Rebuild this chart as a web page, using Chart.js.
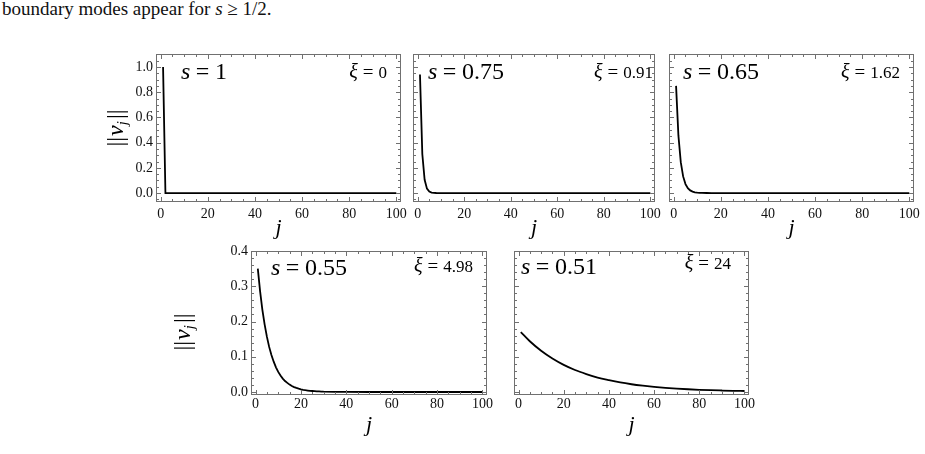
<!DOCTYPE html>
<html><head><meta charset="utf-8">
<script src="https://cdn.jsdelivr.net/npm/chart.js@4.4.1/dist/chart.umd.min.js"></script>
<style>
html,body{margin:0;padding:0;background:#fff;width:925px;height:454px;overflow:hidden;position:relative}
#caption{position:absolute;left:2px;top:-2px;font:19px "Liberation Serif",serif;color:#111;white-space:nowrap}
.panel{position:absolute}
.panel canvas{display:block}
</style></head><body>
<div id="caption">boundary modes appear for <i>s</i> ≥ 1/2.</div>
<div class="panel" id="p0"><canvas id="c0"></canvas></div>
<div class="panel" id="p1"><canvas id="c1"></canvas></div>
<div class="panel" id="p2"><canvas id="c2"></canvas></div>
<div class="panel" id="p3"><canvas id="c3"></canvas></div>
<div class="panel" id="p4"><canvas id="c4"></canvas></div>
<script>
// ---------------- data ----------------
const xTickLabels = [0, 20, 40, 60, 80, 100];
const yTickLabelsTop = [0.0, 0.2, 0.4, 0.6, 0.8, 1.0];
const yTickLabelsBottom = [0.0, 0.1, 0.2, 0.3, 0.4];

const sValues  = ['1', '0.75', '0.65', '0.55', '0.51'];
const xiValues = ['0', '0.91', '1.62', '4.98', '24'];

const j_s100 = [1, 2, 100];
const v_s100 = [1.0, 0.0, 0.0];

const j_s075 = [1, 2, 3, 4, 5, 6, 7, 8, 10, 100];
const v_s075 = [0.94, 0.31, 0.105, 0.035, 0.012, 0.004, 0.0013, 0.0004, 0, 0];

const j_s065 = [1, 2, 3, 4, 5, 6, 7, 8, 9, 10, 11, 12, 14, 16, 100];
const v_s065 = [0.85, 0.455, 0.245, 0.132, 0.071, 0.038, 0.021, 0.011, 0.006, 0.0032, 0.0017, 0.0009, 0.0003, 0, 0];

const j_s055 = [1, 2, 3, 4, 5, 6, 7, 8, 9, 10, 11, 12, 13, 14, 15, 16, 17, 18, 19, 20,
                21, 22, 23, 24, 25, 26, 27, 28, 29, 30, 35, 40, 50, 100];
const v_s055 = [0.350, 0.286, 0.234, 0.192, 0.157, 0.128, 0.105, 0.086, 0.070, 0.057,
                0.047, 0.038, 0.031, 0.026, 0.021, 0.017, 0.014, 0.0115, 0.0094, 0.0077,
                0.0063, 0.0051, 0.0042, 0.0034, 0.0028, 0.0023, 0.0019, 0.0016, 0.0013, 0.0010,
                0.0004, 0.00015, 0.00002, 0];

const j_s051 = [1, 5, 10, 15, 20, 25, 30, 35, 40, 45, 50, 55, 60, 65, 70, 75, 80, 85, 90, 95, 100];
const v_s051 = [0.170, 0.144, 0.117, 0.095, 0.077, 0.0625, 0.051, 0.041, 0.0335, 0.027, 0.022,
                0.018, 0.0146, 0.0118, 0.0096, 0.0078, 0.0063, 0.0051, 0.0042, 0.0034, 0.0028];

// ---------------- layout / style ----------------
const SERIF = '"Liberation Serif", "Times New Roman", serif';
const FRAME = '#707070';
const LABEL = '#111';

const panels = [
  {j: j_s100, v: v_s100, frame: [156, 54, 245, 148], ml: 64, mr: 14, mt: 10, mb: 45, xPad: 4, tPad: 6,
   yLabels: yTickLabelsTop, yRange: [-0.071, 1.103], yMajor: 0.2, yMinor: 0.05, showY: true,
   sDx: 25, sBase: 25, xiDr: 14, xiBase: 24, yTitle: [-41, 74], smooth: false},
  {j: j_s075, v: v_s075, frame: [413, 54, 242, 148], ml: 10, mr: 12, mt: 10, mb: 45, xPad: 4, tPad: 6,
   yLabels: yTickLabelsTop, yRange: [-0.071, 1.103], yMajor: 0.2, yMinor: 0.05, showY: false,
   sDx: 15, sBase: 25, xiDr: 2, xiBase: 24, smooth: false},
  {j: j_s065, v: v_s065, frame: [669, 54, 245, 148], ml: 10, mr: 10, mt: 10, mb: 45, xPad: 4, tPad: 6,
   yLabels: yTickLabelsTop, yRange: [-0.071, 1.103], yMajor: 0.2, yMinor: 0.05, showY: false,
   sDx: 14, sBase: 25, xiDr: 14, xiBase: 24, smooth: false},
  {j: j_s055, v: v_s055, frame: [251, 251, 236, 144], ml: 94, mr: 14, mt: 10, mb: 50, xPad: 1, tPad: 7,
   yLabels: yTickLabelsBottom, yRange: [-0.0085, 0.4], yMajor: 0.1, yMinor: 0.02, showY: true,
   sDx: 20, sBase: 24, xiDr: 14, xiBase: 21, yTitle: [-69, 81], smooth: false},
  {j: j_s051, v: v_s051, frame: [514, 251, 235, 144], ml: 10, mr: 14, mt: 10, mb: 50, xPad: 1, tPad: 7,
   yLabels: yTickLabelsBottom, yRange: [-0.0085, 0.4], yMajor: 0.1, yMinor: 0.02, showY: false,
   sDx: 7, sBase: 23, xiDr: 18, xiBase: 18, smooth: true}
];

// ---------------- helpers ----------------
function runWidth(ctx, parts) {
  let w = 0;
  for (const p of parts) {
    if (p.gap) { w += p.gap; continue; }
    ctx.font = p.f; w += ctx.measureText(p.t).width;
  }
  return w;
}
function drawRun(ctx, x, y, parts) {
  for (const p of parts) {
    if (p.gap) { x += p.gap; continue; }
    ctx.font = p.f;
    ctx.fillText(p.t, x, y + (p.dy || 0));
    x += ctx.measureText(p.t).width;
  }
}
function isMult(v, step) {
  const r = v / step;
  return Math.abs(r - Math.round(r)) < 1e-6;
}

const framePlugin = {
  id: 'frameTicks',
  afterDatasetsDraw(chart, args, o) {
    const {ctx, chartArea: a, scales: {x, y}} = chart;
    ctx.save();
    ctx.strokeStyle = FRAME;
    ctx.lineWidth = 1;
    const L = Math.round(a.left) + 0.5, R = Math.round(a.right) - 0.5;
    const T = Math.round(a.top) + 0.5, B = Math.round(a.bottom) - 0.5;
    ctx.strokeRect(L, T, R - L, B - T);
    ctx.beginPath();
    for (let k = Math.ceil(x.min / o.xMinor); k * o.xMinor <= x.max + 1e-9; k++) {
      const val = k * o.xMinor;
      const px = Math.round(x.getPixelForValue(val)) + 0.5;
      const len = isMult(val, o.xMajor) ? 4.5 : 2.5;
      ctx.moveTo(px, B); ctx.lineTo(px, B - len);
      ctx.moveTo(px, T); ctx.lineTo(px, T + len);
    }
    for (let k = Math.ceil(y.min / o.yMinor - 1e-9); k * o.yMinor <= y.max + 1e-9; k++) {
      const val = k * o.yMinor;
      const py = Math.round(y.getPixelForValue(val)) + 0.5;
      const len = isMult(val, o.yMajor) ? 4.5 : 2.5;
      ctx.moveTo(L, py); ctx.lineTo(L + len, py);
      ctx.moveTo(R, py); ctx.lineTo(R - len, py);
    }
    ctx.stroke();
    ctx.restore();
  }
};

const textPlugin = {
  id: 'panelText',
  afterDraw(chart, args, o) {
    const {ctx, chartArea: a} = chart;
    ctx.save();
    ctx.fillStyle = '#000';
    ctx.textBaseline = 'alphabetic';
    ctx.textAlign = 'left';
    const sParts = [
      {t: 's', f: 'italic 24px ' + SERIF}, {gap: 5.5},
      {t: '=', f: '24px ' + SERIF}, {gap: 5.5},
      {t: o.s, f: '24px ' + SERIF}
    ];
    drawRun(ctx, a.left + o.sDx, a.top + o.sBase, sParts);
    const xParts = [
      {t: 'ξ', f: 'italic 20px ' + SERIF}, {gap: 5},
      {t: '=', f: '19px ' + SERIF}, {gap: 5},
      {t: o.xi, f: '17px ' + SERIF}
    ];
    const w = runWidth(ctx, xParts);
    drawRun(ctx, a.right - o.xiDr - w, a.top + o.xiBase, xParts);
    if (o.yTitle) {
      const tParts = [
        {t: '||', f: '24px ' + SERIF}, {gap: 1},
        {t: 'v', f: 'italic 24px ' + SERIF},
        {t: 'j', f: 'italic 15px ' + SERIF, dy: 4}, {gap: 2},
        {t: '||', f: '24px ' + SERIF}
      ];
      const tw = runWidth(ctx, tParts);
      ctx.translate(a.left + o.yTitle[0], a.top + o.yTitle[1]);
      ctx.rotate(-Math.PI / 2);
      drawRun(ctx, -tw / 2, 8, tParts);
    }
    ctx.restore();
  }
};

// ---------------- build charts ----------------
panels.forEach((p, i) => {
  const [fl, ft, fw, fh] = p.frame;
  const div = document.getElementById('p' + i);
  div.style.left = (fl - p.ml) + 'px';
  div.style.top = (ft - p.mt) + 'px';
  div.style.width = (fw + p.ml + p.mr) + 'px';
  div.style.height = (fh + p.mt + p.mb) + 'px';

  const pts = p.j.map((jj, k) => ({x: jj, y: p.v[k]}));

  new Chart(document.getElementById('c' + i), {
    type: 'line',
    data: {datasets: [{
      data: pts, borderColor: '#000', borderWidth: 1.8, pointRadius: 0,
      tension: 0, cubicInterpolationMode: p.smooth ? 'monotone' : 'default', fill: false
    }]},
    plugins: [framePlugin, textPlugin],
    options: {
      responsive: true, maintainAspectRatio: false, animation: false, devicePixelRatio: 1,
      layout: {padding: {left: 0, top: p.mt, right: p.mr, bottom: 0}},
      plugins: {
        legend: {display: false}, tooltip: {enabled: false},
        frameTicks: {xMajor: 20, xMinor: 5, yMajor: p.yMajor, yMinor: p.yMinor},
        panelText: {s: sValues[i], xi: xiValues[i], sDx: p.sDx, sBase: p.sBase,
                    xiDr: p.xiDr, xiBase: p.xiBase, yTitle: p.yTitle}
      },
      scales: {
        x: {
          type: 'linear', position: 'bottom', min: -2, max: 102,
          grid: {display: false, drawTicks: false}, border: {display: false},
          afterBuildTicks: s => { s.ticks = xTickLabels.map(v => ({value: v})); },
          ticks: {padding: p.xPad, maxRotation: 0, autoSkip: false, color: LABEL,
                  font: {family: SERIF, size: 14}, callback: v => String(v)},
          title: {display: true, text: 'j', color: '#000',
                  font: {family: SERIF, size: 22, style: 'italic', lineHeight: 1.2},
                  padding: {top: 0, bottom: p.tPad}},
          afterFit: s => { s.height = p.mb; s.paddingLeft = 0; s.paddingRight = 0; }
        },
        y: {
          type: 'linear', position: 'left', min: p.yRange[0], max: p.yRange[1],
          grid: {display: false, drawTicks: false}, border: {display: false},
          afterBuildTicks: s => { s.ticks = p.yLabels.map(v => ({value: v})); },
          ticks: {display: p.showY, padding: 3, autoSkip: false, color: LABEL,
                  font: {family: SERIF, size: 14}, callback: v => Number(v).toFixed(1)},
          afterFit: s => { s.width = p.ml; s.paddingTop = 0; s.paddingBottom = 0; }
        }
      }
    }
  });
});
</script>
</body></html>
